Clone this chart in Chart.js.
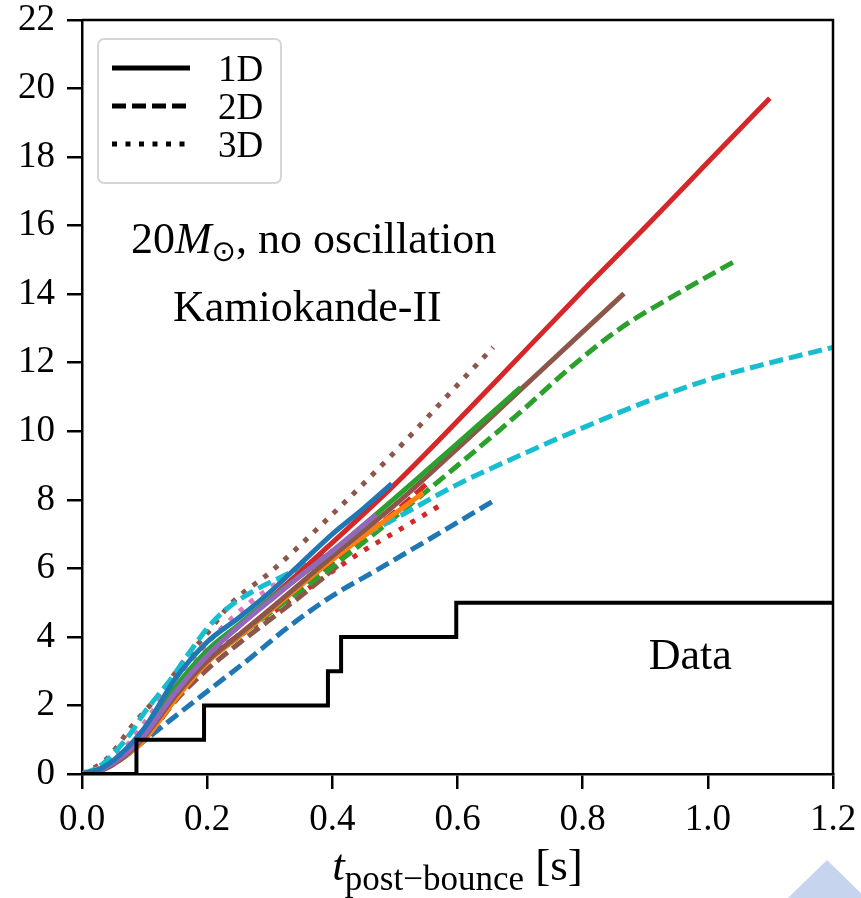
<!DOCTYPE html>
<html>
<head>
<meta charset="utf-8">
<script src="https://cdn.jsdelivr.net/npm/chart.js@4.4.1/dist/chart.umd.min.js"></script>
<style>
  html, body { margin: 0; padding: 0; background: #fff; }
  #wrap { width: 861px; height: 898px; position: relative; }
</style>
</head>
<body>
<div id="wrap"><canvas id="c"></canvas></div>
<script>
// Cumulative event counts vs post-bounce time (20 Msun, no oscillation, Kamiokande-II)
const xTicks = [0, 0.2, 0.4, 0.6, 0.8, 1.0, 1.2];
const yTicks = [0, 2, 4, 6, 8, 10, 12, 14, 16, 18, 20, 22];
const legendLabels = ['1D', '2D', '3D'];

// observed data (step)
const tData = [0, 0.087, 0.195, 0.393, 0.414, 0.598, 1.2];
const nData = [0, 1, 2, 3, 4, 5, 5];

// 1D models (solid)
const tBlue1D = [0, 0.03, 0.06, 0.1, 0.15, 0.2, 0.25, 0.3, 0.35, 0.4, 0.45, 0.495];
const nBlue1D = [0, 0.15, 0.55, 1.35, 2.8, 3.85, 4.55, 5.3, 6.15, 7.0, 7.75, 8.47];
const tOrange1D = [0, 0.03, 0.06, 0.1, 0.15, 0.2, 0.25, 0.3, 0.4, 0.5, 0.545];
const nOrange1D = [0, 0.1, 0.4, 1.0, 2.2, 3.25, 4.0, 4.75, 6.25, 7.6, 8.2];
const tGreen1D = [0, 0.03, 0.06, 0.1, 0.15, 0.2, 0.25, 0.3, 0.4, 0.5, 0.6, 0.701];
const nGreen1D = [0, 0.15, 0.5, 1.25, 2.55, 3.6, 4.35, 5.1, 6.5, 8.05, 9.65, 11.28];
const tRed1D = [0, 0.03, 0.06, 0.1, 0.15, 0.2, 0.25, 0.3, 0.4, 0.5, 0.6, 0.7, 0.8, 0.9, 1.0, 1.099];
const nRed1D = [0, 0.15, 0.5, 1.25, 2.5, 3.55, 4.3, 5.1, 6.75, 8.45, 10.3, 12.2, 14.1, 15.95, 17.85, 19.72];
const tPurple1D = [0, 0.03, 0.06, 0.1, 0.15, 0.2, 0.25, 0.3, 0.35, 0.4, 0.47];
const nPurple1D = [0, 0.12, 0.45, 1.15, 2.4, 3.45, 4.3, 5.05, 5.8, 6.5, 7.57];
const tBrown1D = [0, 0.03, 0.06, 0.1, 0.15, 0.2, 0.25, 0.3, 0.4, 0.5, 0.6, 0.7, 0.8, 0.866];
const nBrown1D = [0, 0.1, 0.4, 1.1, 2.3, 3.3, 4.05, 4.8, 6.35, 7.85, 9.5, 11.2, 12.9, 14.02];

// 2D models (dashed)
const tBlue2D = [0, 0.034, 0.06, 0.093, 0.15, 0.21, 0.27, 0.327, 0.4, 0.471, 0.55, 0.663];
const nBlue2D = [0, 0.18, 0.45, 0.88, 1.7, 2.55, 3.4, 4.25, 5.2, 5.95, 6.8, 8.03];
const tGreen2D = [0, 0.03, 0.06, 0.1, 0.15, 0.2, 0.25, 0.3, 0.4, 0.5, 0.6, 0.7, 0.78, 0.86, 0.95, 1.04];
const nGreen2D = [0, 0.12, 0.45, 1.1, 2.3, 3.3, 4.0, 4.7, 6.05, 7.5, 9.0, 10.55, 11.85, 13.0, 14.0, 14.93];
const tRed2D = [0, 0.03, 0.06, 0.1, 0.15, 0.2, 0.25, 0.3, 0.4, 0.5, 0.556];
const nRed2D = [0, 0.12, 0.45, 1.15, 2.4, 3.35, 4.05, 4.75, 6.2, 7.65, 8.55];
const tBrown2D = [0, 0.03, 0.06, 0.1, 0.15, 0.2, 0.25, 0.3, 0.35, 0.41];
const nBrown2D = [0, 0.1, 0.4, 1.0, 2.15, 3.05, 3.8, 4.5, 5.2, 6.1];
const tCyan2D = [0, 0.03, 0.077, 0.1, 0.14, 0.17, 0.2, 0.23, 0.28, 0.33, 0.4, 0.5, 0.6, 0.7, 0.8, 0.9, 1.0, 1.1, 1.2];
const nCyan2D = [0, 0.25, 1.17, 1.8, 2.72, 3.5, 4.25, 4.8, 5.4, 5.85, 6.5, 7.45, 8.45, 9.3, 10.1, 10.85, 11.5, 12.0, 12.45];

// 3D models (dotted)
const tRed3D = [0, 0.03, 0.06, 0.1, 0.15, 0.2, 0.25, 0.3, 0.364, 0.444, 0.5, 0.577];
const nRed3D = [0, 0.15, 0.5, 1.25, 2.45, 3.35, 4.0, 4.65, 5.45, 6.45, 7.05, 7.89];
const tBrown3D = [0, 0.04, 0.082, 0.125, 0.167, 0.2, 0.237, 0.305, 0.39, 0.5, 0.6, 0.657];
const nBrown3D = [0, 0.45, 1.45, 2.35, 3.4, 4.1, 4.95, 5.95, 7.4, 9.4, 11.35, 12.45];
const tPink3D = [0, 0.03, 0.06, 0.1, 0.146, 0.2, 0.22, 0.268, 0.321, 0.345];
const nPink3D = [0, 0.2, 0.6, 1.5, 2.7, 3.8, 4.2, 5.0, 5.7, 6.05];

const C = {
  blue: '#1f77b4', orange: '#ff7f0e', green: '#2ca02c', red: '#d62728',
  purple: '#9467bd', brown: '#8c564b', pink: '#e377c2', cyan: '#17becf',
};
const DASH = { '1D': [], '2D': [14, 6], '3D': [5, 8.5] };
const SERIF = '"Liberation Serif", "Times New Roman", serif';

const pts = (t, n) => t.map((x, i) => ({ x, y: n[i] }));
const model = (t, n, color, dim) => ({
  data: pts(t, n),
  borderColor: color,
  borderWidth: 5,
  borderDash: DASH[dim],
  borderCapStyle: 'butt',
  pointRadius: 0,
  cubicInterpolationMode: 'monotone',
  fill: false,
});

const datasets = [
  { data: pts(tData, nData), borderColor: '#000', borderWidth: 4, stepped: 'before', pointRadius: 0, fill: false },
  model(tBlue1D, nBlue1D, C.blue, '1D'),
  model(tPurple1D, nPurple1D, C.purple, '1D'),
  model(tGreen1D, nGreen1D, C.green, '1D'),
  model(tRed1D, nRed1D, C.red, '1D'),
  model(tBrown1D, nBrown1D, C.brown, '1D'),
  model(tOrange1D, nOrange1D, C.orange, '1D'),
  model(tCyan2D, nCyan2D, C.cyan, '2D'),
  model(tBlue2D, nBlue2D, C.blue, '2D'),
  model(tGreen2D, nGreen2D, C.green, '2D'),
  model(tRed2D, nRed2D, C.red, '2D'),
  model(tBrown2D, nBrown2D, C.brown, '2D'),
  model(tPink3D, nPink3D, C.pink, '3D'),
  model(tBrown3D, nBrown3D, C.brown, '3D'),
  model(tRed3D, nRed3D, C.red, '3D'),
];

// frame, legend, annotations, axis label
const decor = {
  id: 'decor',
  afterDraw(chart) {
    const { ctx, chartArea: ca, scales } = chart;
    const xs = scales.x, ys = scales.y;
    ctx.save();
    // top + right spines
    ctx.strokeStyle = '#000';
    ctx.lineWidth = 2.5;
    ctx.beginPath();
    ctx.moveTo(ca.left, ca.top);
    ctx.lineTo(ca.right, ca.top);
    ctx.lineTo(ca.right, ca.bottom);
    ctx.stroke();

    // legend box
    const lx = ca.left + 16, ly = ca.top + 19, lw = 183, lh = 144;
    ctx.fillStyle = 'rgba(255,255,255,0.8)';
    ctx.strokeStyle = '#d6d6d6';
    ctx.lineWidth = 2;
    ctx.beginPath();
    ctx.roundRect(lx, ly, lw, lh, 6);
    ctx.fill();
    ctx.stroke();
    ctx.font = `37px ${SERIF}`;
    ctx.fillStyle = '#000';
    ctx.textBaseline = 'alphabetic';
    ctx.textAlign = 'left';
    legendLabels.forEach((lab, i) => {
      const yy = ly + 29 + i * 38;
      ctx.strokeStyle = '#000';
      ctx.lineWidth = 5;
      ctx.lineCap = 'butt';
      ctx.setLineDash(DASH[lab]);
      ctx.beginPath();
      ctx.moveTo(lx + 14, yy);
      ctx.lineTo(lx + 92, yy);
      ctx.stroke();
      ctx.setLineDash([]);
      ctx.fillText(lab, lx + 120, yy + 13);
    });

    // annotations
    const seg = (parts, cx, by) => {
      let w = 0;
      parts.forEach(p => { ctx.font = p.f; w += ctx.measureText(p.s).width; });
      let x = cx - w / 2;
      parts.forEach(p => {
        ctx.font = p.f;
        ctx.fillText(p.s, x, by + (p.dy || 0));
        x += ctx.measureText(p.s).width;
      });
    };
    const big = `44px ${SERIF}`;
    const bigIt = `italic 44px ${SERIF}`;
    ctx.fillStyle = '#000';
    seg([
      { s: '20', f: big },
      { s: 'M', f: bigIt },
      { s: '\u2299', f: `29px "DejaVu Sans", sans-serif`, dy: 8 },
      { s: ', no oscillation', f: big },
    ], xs.getPixelForValue(0.37), ys.getPixelForValue(15.19));
    seg([{ s: 'Kamiokande-II', f: big }], xs.getPixelForValue(0.36), ys.getPixelForValue(13.23));
    seg([{ s: 'Data', f: big }], xs.getPixelForValue(0.972), ys.getPixelForValue(3.07));

    // x-axis title
    seg([
      { s: 't', f: `italic 45px ${SERIF}` },
      { s: 'post\u2212bounce', f: `35px ${SERIF}`, dy: 10 },
      { s: ' [s]', f: `45px ${SERIF}` },
    ], (ca.left + ca.right) / 2, 880);

    // light triangle at bottom-right corner of the image
    ctx.fillStyle = '#c6d4ee';
    ctx.beginPath();
    ctx.moveTo(827, 860);
    ctx.lineTo(866, 898);
    ctx.lineTo(788, 898);
    ctx.closePath();
    ctx.fill();
    ctx.restore();
  },
};

new Chart(document.getElementById('c').getContext('2d'), {
  type: 'line',
  data: { datasets },
  plugins: [decor],
  options: {
    responsive: true,
    maintainAspectRatio: false,
    animation: false,
    events: [],
    layout: { padding: { top: 20, right: 28, left: 0, bottom: 0 } },
    plugins: { legend: { display: false }, tooltip: { enabled: false } },
    scales: {
      x: {
        type: 'linear',
        min: 0,
        max: 1.2,
        afterBuildTicks: (s) => { s.ticks = xTicks.map(v => ({ value: v })); },
        afterFit: (s) => { s.height = 124; s.paddingLeft = 0; s.paddingRight = 0; },
        ticks: { color: '#000', font: { family: SERIF, size: 37 }, padding: 9, maxRotation: 0,
          callback: (v) => v.toFixed(1) },
        grid: { drawOnChartArea: false, drawTicks: true, tickLength: 15, color: '#000', lineWidth: 2.5 },
        border: { display: true, color: '#000', width: 2.5 },
      },
      y: {
        type: 'linear',
        min: 0,
        max: 22,
        afterBuildTicks: (s) => { s.ticks = yTicks.map(v => ({ value: v })); },
        afterFit: (s) => { s.width = 82; s.paddingTop = 0; s.paddingBottom = 0; },
        ticks: { color: '#000', font: { family: SERIF, size: 37 }, padding: 12,
          callback: (v) => String(v) },
        grid: { drawOnChartArea: false, drawTicks: true, tickLength: 15, color: '#000', lineWidth: 2.5 },
        border: { display: true, color: '#000', width: 2.5 },
      },
    },
  },
});
</script>
</body>
</html>
